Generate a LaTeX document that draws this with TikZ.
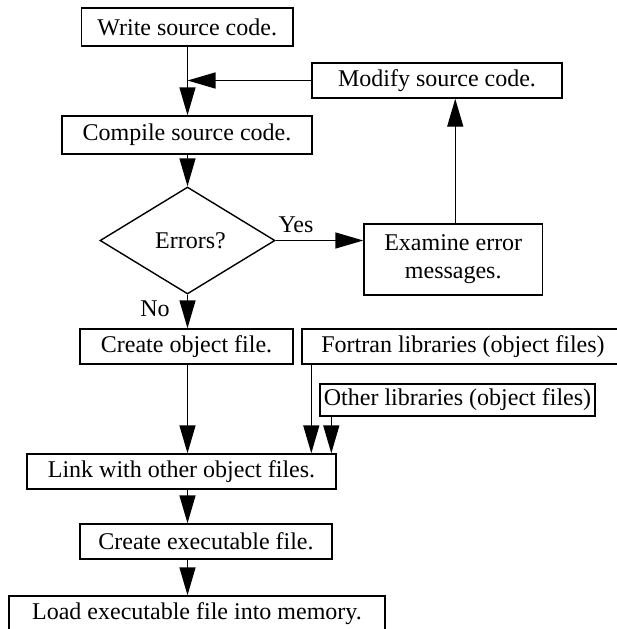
\documentclass[tikz,border=0pt]{standalone}
\usepackage{fontspec}
\setmainfont{Liberation Serif}
\usetikzlibrary{arrows.meta,shapes.geometric}
\tikzset{
  box/.style={draw, rectangle, inner sep=0pt, line width=1.4pt, align=center},
  decision/.style={draw, diamond, inner sep=0pt, line width=1.4pt, aspect=1.64},
  arr/.style={line width=1.4pt, -{Triangle[length=28pt,width=16pt]}},
  lbl/.style={inner sep=0pt}
}
\begin{document}
\begin{tikzpicture}[x=1pt, y=-1pt, font=\fontsize{24}{28}\selectfont]
\useasboundingbox (0,0) rectangle (617,629);

% process steps
\node[box, minimum width=211.5pt, minimum height=38pt] (write) at (187.25,27) {Write source code.};
\node[box, minimum width=250pt, minimum height=35pt] (modify) at (437,80.5) {Modify source code.};
\node[box, minimum width=250pt, minimum height=38pt] (compile) at (187,135) {Compile source code.};
\node[decision, minimum width=175pt, minimum height=107pt] (errors) at (187.5,240.5) {\hspace{6pt}Errors?};
\node[box, minimum width=178.5pt, minimum height=71pt] (examine) at (453.25,259.5) {Examine error\\messages.};
\node[box, minimum width=213pt, minimum height=35pt] (obj) at (186.5,346.5) {Create object file.};
\node[box, minimum width=322pt, minimum height=35pt] (fortran) at (463,346.5) {Fortran libraries (object files)};
\node[box, minimum width=275pt, minimum height=32pt] (other) at (457.5,400) {Other libraries (object files)};
\node[box, minimum width=309pt, minimum height=35pt] (link) at (181.5,471.5) {Link with other object files.};
\node[box, minimum width=252pt, minimum height=35pt] (exe) at (206,541.5) {Create executable file.};
\node[box, minimum width=376pt, minimum height=35pt] (load) at (197,613.5) {Load executable file into memory.};

% branch labels
\node[lbl] (yes) at (296,225) {Yes};
\node[lbl] (no) at (155,309) {No};

% flow
\draw[arr] (write.south -| errors.north) -- (errors.north |- compile.north);
\draw[arr] (modify.west) -- (modify.west -| errors.north);
\draw[arr] (errors.north |- compile.south) -- (errors.north);
\draw[arr] (errors.east) -- (errors.east -| examine.west);
\draw[arr] ([xshift=2pt]examine.north) -- ([xshift=2pt]examine.north |- modify.south);
\draw[arr] (errors.south) -- (errors.south |- obj.north);
\draw[arr] (errors.south |- obj.south) -- (errors.south |- link.north);
\draw[arr] ([xshift=10pt]fortran.south west) -- ([xshift=10pt]fortran.south west |- link.north);
\draw[arr] ([xshift=12pt]other.south west) -- ([xshift=12pt]other.south west |- link.north);
\draw[arr] (errors.south |- link.south) -- (errors.south |- exe.north);
\draw[arr] (errors.south |- exe.south) -- (errors.south |- load.north);
\end{tikzpicture}
\end{document}
